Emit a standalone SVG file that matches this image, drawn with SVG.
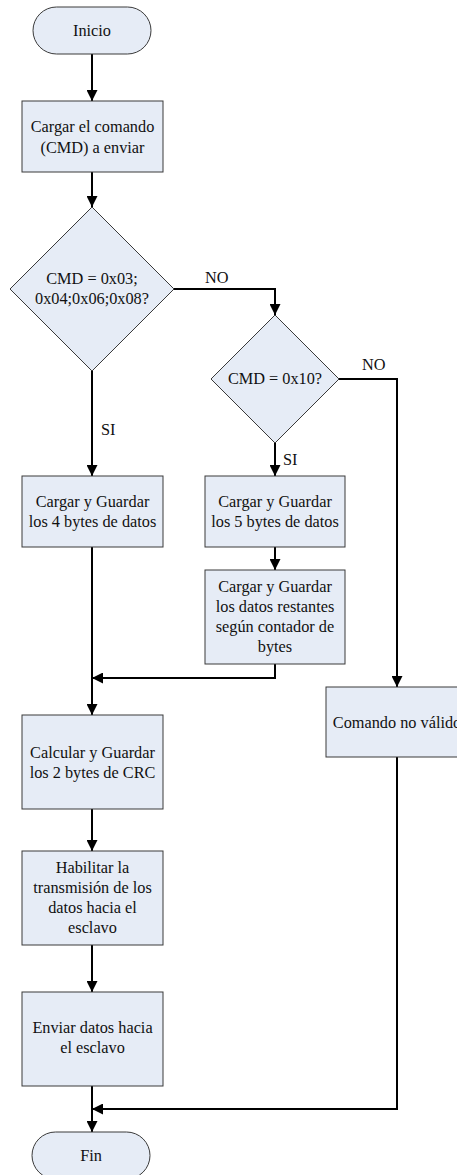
<svg xmlns="http://www.w3.org/2000/svg" width="457" height="1175" viewBox="0 0 457 1175">
  <style>
    .shape { fill: #E6ECF6; stroke: #3a3a3a; stroke-width: 1; }
    .lbl { font-family: 'Liberation Serif', 'DejaVu Serif', serif; font-size: 16.3px; fill: #111; text-anchor: middle; }
    .tag { font-family: 'Liberation Serif', 'DejaVu Serif', serif; font-size: 16.3px; fill: #111; }
    .wire { fill: none; stroke: #000; stroke-width: 2; marker-end: url(#head); }
    .plain { fill: none; stroke: #000; stroke-width: 2; }
  </style>
  <defs>
    <marker id="head" viewBox="0 0 10 10" refX="10" refY="5" markerWidth="5.5" markerHeight="5.5" orient="auto" markerUnits="strokeWidth">
      <path d="M0,0 L10,5 L0,10 Z" fill="#000"/>
    </marker>
  </defs>
  <rect width="457" height="1175" fill="#fff"/>

  <g id="connectors">
    <path class="wire" d="M92,54 V101"/>
    <path class="wire" d="M92,172 V207"/>
    <path class="wire" d="M173,289 H275 V315"/>
    <path class="wire" d="M92,371 V476"/>
    <path class="wire" d="M275,443 V476"/>
    <path class="wire" d="M275,547 V570"/>
    <path class="plain" d="M92,547 V678"/>
    <path class="wire" d="M275,664 V678 H92"/>
    <path class="wire" d="M92,678 V715"/>
    <path class="wire" d="M339,379 H397 V687"/>
    <path class="wire" d="M92,809 V851"/>
    <path class="wire" d="M92,945 V992"/>
    <path class="wire" d="M92,1086 V1132"/>
    <path class="wire" d="M397,757 V1109 H92"/>
    <text class="tag" x="205" y="283" font-family="Liberation Serif, serif">NO</text>
    <text class="tag" x="362" y="370" font-family="Liberation Serif, serif">NO</text>
    <text class="tag" x="101" y="435" font-family="Liberation Serif, serif">SI</text>
    <text class="tag" x="283" y="465" font-family="Liberation Serif, serif">SI</text>
  </g>

  <g id="inicio">
    <rect class="shape" x="33" y="7" width="118" height="47" rx="23.5" ry="23.5"/>
    <text class="lbl" x="92" y="36">Inicio</text>
  </g>

  <g id="cargar-comando">
    <rect class="shape" x="22" y="101" width="141" height="71"/>
    <text class="lbl" x="92.5" y="132">Cargar el comando</text>
    <text class="lbl" x="92.5" y="153">(CMD) a enviar</text>
  </g>

  <g id="decision-cmd">
    <polygon class="shape" points="92,207 174,289 92,371 10,289"/>
    <text class="lbl" x="92" y="284">CMD = 0x03;</text>
    <text class="lbl" x="92" y="304">0x04;0x06;0x08?</text>
  </g>

  <g id="decision-0x10">
    <polygon class="shape" points="275,315 339,379 275,443 211,379"/>
    <text class="lbl" x="275" y="384">CMD = 0x10?</text>
  </g>

  <g id="guardar-4">
    <rect class="shape" x="22" y="476" width="141" height="71"/>
    <text class="lbl" x="92.5" y="507">Cargar y Guardar</text>
    <text class="lbl" x="92.5" y="527">los 4 bytes de datos</text>
  </g>

  <g id="guardar-5">
    <rect class="shape" x="205" y="476" width="140" height="71"/>
    <text class="lbl" x="275" y="507">Cargar y Guardar</text>
    <text class="lbl" x="275" y="527">los 5 bytes de datos</text>
  </g>

  <g id="guardar-restantes">
    <rect class="shape" x="205" y="570" width="140" height="94"/>
    <text class="lbl" x="275" y="592">Cargar y Guardar</text>
    <text class="lbl" x="275" y="612">los datos restantes</text>
    <text class="lbl" x="275" y="632">según contador de</text>
    <text class="lbl" x="275" y="652">bytes</text>
  </g>

  <g id="comando-no-valido">
    <rect class="shape" x="326" y="687" width="142" height="70"/>
    <text class="lbl" x="397" y="728">Comando no válido</text>
  </g>

  <g id="calcular-crc">
    <rect class="shape" x="22" y="715" width="141" height="94"/>
    <text class="lbl" x="92.5" y="758">Calcular y Guardar</text>
    <text class="lbl" x="92.5" y="778">los 2 bytes de CRC</text>
  </g>

  <g id="habilitar">
    <rect class="shape" x="22" y="851" width="141" height="94"/>
    <text class="lbl" x="92.5" y="873">Habilitar la</text>
    <text class="lbl" x="92.5" y="893">transmisión de los</text>
    <text class="lbl" x="92.5" y="913">datos hacia el</text>
    <text class="lbl" x="92.5" y="933">esclavo</text>
  </g>

  <g id="enviar">
    <rect class="shape" x="22" y="992" width="141" height="94"/>
    <text class="lbl" x="92.5" y="1033">Enviar datos hacia</text>
    <text class="lbl" x="92.5" y="1053">el esclavo</text>
  </g>

  <g id="fin">
    <rect class="shape" x="32" y="1132" width="118" height="47" rx="23.5" ry="23.5"/>
    <text class="lbl" x="91" y="1161">Fin</text>
  </g>
</svg>
